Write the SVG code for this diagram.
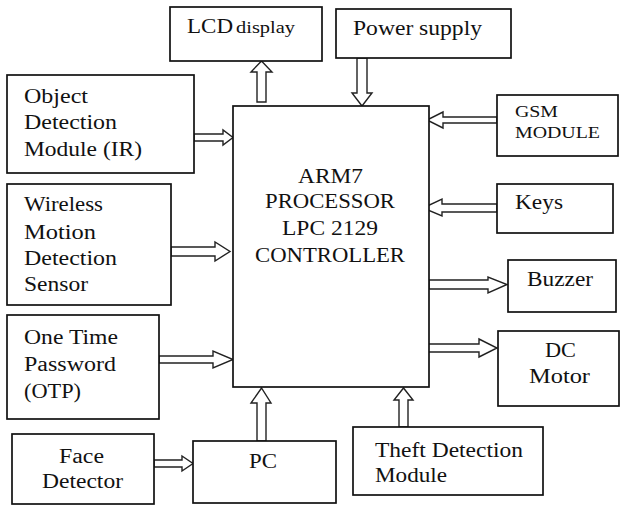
<svg xmlns="http://www.w3.org/2000/svg" width="620" height="506" viewBox="0 0 620 506">
<style>
.box{fill:#fff;stroke:#111;stroke-width:1.7}
.arr{fill:#fff;stroke:#222;stroke-width:1.4;stroke-linejoin:miter}
text{font-family:"Liberation Serif","Times New Roman",serif;font-size:20px;fill:#111}
.s{font-size:17px}
</style>
<rect width="620" height="506" fill="#fff"/>
<g id="connectors">
<polygon class="arr" points="257,102 257,72 251,72 261.5,61 272,72 266,72 266,102"/>
<polygon class="arr" points="357,58 357,93 352,93 362,106 372,93 367,93 367,58"/>
<polygon class="arr" points="497,117 443,117 443,112 427,120 443,128 443,123 497,123"/>
<polygon class="arr" points="497,204 442,204 442,199 423,208 442,216 442,212 497,212"/>
<polygon class="arr" points="429,280 488,280 488,277 507,284.5 488,293 488,289 429,289"/>
<polygon class="arr" points="428,344 479,344 479,339 497,348 479,357 479,352 428,352"/>
<polygon class="arr" points="194,134 223,134 223,130 233,137.5 223,145 223,141 194,141"/>
<polygon class="arr" points="171,247 215,247 215,242 230,251.5 215,261 215,256 171,256"/>
<polygon class="arr" points="159,356 213,356 213,351 233,359.5 213,368 213,363 159,363"/>
<polygon class="arr" points="154,460 182,460 182,456 193,463.5 182,471 182,467 154,467"/>
<polygon class="arr" points="257,441 257,403 251,403 261.5,388 271,403 266,403 266,441"/>
<polygon class="arr" points="399,427 399,400 394,400 403.5,388 413,400 408,400 408,427"/>
</g>
<g id="main">
<rect class="box" x="233" y="106" width="196" height="281"/>
<text x="298" y="183" textLength="65" lengthAdjust="spacingAndGlyphs">ARM7</text>
<text x="265" y="208" textLength="130" lengthAdjust="spacingAndGlyphs">PROCESSOR</text>
<text x="282" y="235" textLength="96" lengthAdjust="spacingAndGlyphs">LPC 2129</text>
<text x="255" y="262" textLength="150" lengthAdjust="spacingAndGlyphs">CONTROLLER</text>
</g>
<g id="lcd">
<rect class="box" x="170" y="7" width="152" height="54"/>
<text x="187" y="33" textLength="46" lengthAdjust="spacingAndGlyphs">LCD</text>
<text x="236" y="33" class="s" textLength="59" lengthAdjust="spacingAndGlyphs">display</text>
</g>
<g id="power">
<rect class="box" x="336" y="9" width="175" height="49"/>
<text x="353" y="35" textLength="129" lengthAdjust="spacingAndGlyphs">Power supply</text>
</g>
<g id="object">
<rect class="box" x="7" y="75" width="187" height="98"/>
<text x="24" y="103" textLength="64" lengthAdjust="spacingAndGlyphs">Object</text>
<text x="24" y="129" textLength="93" lengthAdjust="spacingAndGlyphs">Detection</text>
<text x="24" y="156" textLength="118" lengthAdjust="spacingAndGlyphs">Module (IR)</text>
</g>
<g id="wireless">
<rect class="box" x="7" y="184" width="164" height="121"/>
<text x="24" y="211" textLength="79" lengthAdjust="spacingAndGlyphs">Wireless</text>
<text x="24" y="239" textLength="72" lengthAdjust="spacingAndGlyphs">Motion</text>
<text x="24" y="265" textLength="93" lengthAdjust="spacingAndGlyphs">Detection</text>
<text x="24" y="291" textLength="64" lengthAdjust="spacingAndGlyphs">Sensor</text>
</g>
<g id="otp">
<rect class="box" x="7" y="315" width="152" height="104"/>
<text x="24" y="344" textLength="94" lengthAdjust="spacingAndGlyphs">One Time</text>
<text x="24" y="371" textLength="92" lengthAdjust="spacingAndGlyphs">Password</text>
<text x="24" y="398" textLength="57" lengthAdjust="spacingAndGlyphs">(OTP)</text>
</g>
<g id="face">
<rect class="box" x="12" y="434" width="142" height="70"/>
<text x="59" y="463" textLength="45" lengthAdjust="spacingAndGlyphs">Face</text>
<text x="42" y="488" textLength="81" lengthAdjust="spacingAndGlyphs">Detector</text>
</g>
<g id="pc">
<rect class="box" x="193" y="441" width="143" height="62"/>
<text x="249" y="468" textLength="28" lengthAdjust="spacingAndGlyphs">PC</text>
</g>
<g id="theft">
<rect class="box" x="353" y="427" width="190" height="68"/>
<text x="375" y="457" textLength="148" lengthAdjust="spacingAndGlyphs">Theft Detection</text>
<text x="375" y="482" textLength="72" lengthAdjust="spacingAndGlyphs">Module</text>
</g>
<g id="gsm">
<rect class="box" x="497" y="95" width="121" height="61"/>
<text x="515" y="117" class="s" textLength="43" lengthAdjust="spacingAndGlyphs">GSM</text>
<text x="515" y="138" class="s" textLength="85" lengthAdjust="spacingAndGlyphs">MODULE</text>
</g>
<g id="keys">
<rect class="box" x="497" y="184" width="116" height="49"/>
<text x="515" y="209" textLength="48" lengthAdjust="spacingAndGlyphs">Keys</text>
</g>
<g id="buzzer">
<rect class="box" x="508" y="260" width="108" height="52"/>
<text x="527" y="286" textLength="66" lengthAdjust="spacingAndGlyphs">Buzzer</text>
</g>
<g id="dcmotor">
<rect class="box" x="498" y="331" width="121" height="75"/>
<text x="545" y="357" textLength="31" lengthAdjust="spacingAndGlyphs">DC</text>
<text x="529" y="383" textLength="61" lengthAdjust="spacingAndGlyphs">Motor</text>
</g>
</svg>
